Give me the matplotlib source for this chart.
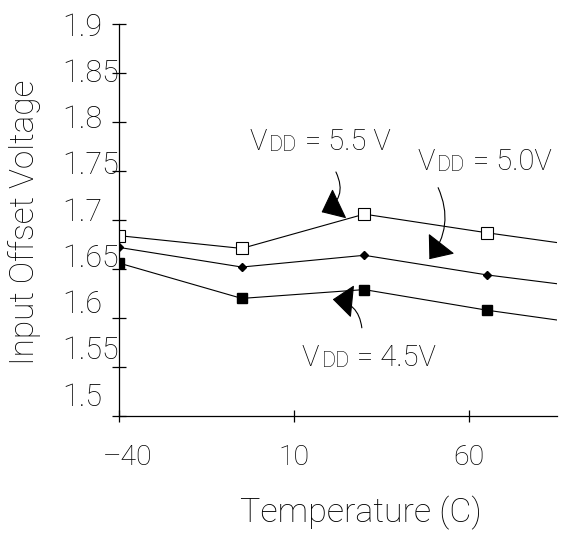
import matplotlib
matplotlib.use("Agg")
import matplotlib.pyplot as plt
import matplotlib.transforms as mtransforms

# data
temps = [-40, -5, 30, 65, 85]
vdd_55 = [1.684, 1.671, 1.706, 1.687, 1.677]
vdd_50 = [1.672, 1.652, 1.664, 1.644, 1.635]
vdd_45 = [1.656, 1.620, 1.629, 1.608, 1.598]

yticks = [1.9, 1.85, 1.8, 1.75, 1.7, 1.65, 1.6, 1.55, 1.5]
ylabels = ["1.9", "1.85", "1.8", "1.75", "1.7", "1.65", "1.6", "1.55", "1.5"]
xticks = [-40, 10, 60]
xlabels = ["\u201340", "10", "60"]

plt.rcParams['font.family'] = ['Roboto', 'DejaVu Sans']
plt.rcParams['font.weight'] = 'light'
plt.rcParams['axes.labelweight'] = 'light'

fig = plt.figure(figsize=(5.74, 5.37), dpi=100)
ax = fig.add_axes([0.2078, 0.2253, 0.7622, 0.73])

# lines end at 85 with no marker there
ax.plot(temps, vdd_55, color='black', lw=0.8, marker='s', markersize=8,
        markerfacecolor='white', markeredgecolor='black', markeredgewidth=0.8,
        markevery=[0, 1, 2, 3])
ax.plot(temps, vdd_50, color='black', lw=0.8, marker='D', markersize=4.5,
        markevery=[0, 1, 2, 3])
ax.plot(temps, vdd_45, color='black', lw=0.8, marker='s', markersize=6.5,
        markevery=[0, 1, 2, 3])

ax.set_xlim(-40, 85)
ax.set_ylim(1.5, 1.9)
for s in ['top', 'right']:
    ax.spines[s].set_visible(False)
for s in ['left', 'bottom']:
    ax.spines[s].set_linewidth(0.9)

ax.set_yticks(yticks)
ax.set_yticklabels([])
ax.tick_params(axis='y', direction='inout', length=10, width=0.9)
ax.set_xticks(xticks)
ax.set_xticklabels(xlabels, fontsize=20.5)
ax.tick_params(axis='x', direction='inout', length=8, width=0.9, pad=16)
first = ax.get_xticklabels()[0]
first.set_transform(first.get_transform() +
                    mtransforms.ScaledTranslation(0.08, 0, fig.dpi_scale_trans))

# y tick labels drawn left aligned, drifting a little from the ticks like the original
blend = mtransforms.blended_transform_factory(fig.transFigure, ax.transData)
for v, lab in zip(yticks, ylabels):
    up = -3 + (1.9 - v) / 0.4 * 22
    off = mtransforms.ScaledTranslation(0, up / 100, fig.dpi_scale_trans)
    ax.text(62 / 574, v, lab, transform=blend + off, ha='left', va='center',
            fontsize=22, clip_on=False)

ax.set_xlabel("Temperature (C)", fontsize=24.5, va='center')
ax.xaxis.set_label_coords(361 / 574, 1 - 513 / 537, transform=fig.transFigure)
ax.set_ylabel("Input Offset Voltage", fontsize=24, va='center')
ax.yaxis.set_label_coords(25 / 574, 1 - 222 / 537, transform=fig.transFigure)


def vdd_label(x, y, rest):
    t = ax.text(x, y, "V", fontsize=21, ha='left', va='bottom')
    t2 = ax.annotate("DD", xy=(1, 0), xycoords=t, xytext=(1.5, 0),
                     textcoords='offset points', fontsize=15.5, va='bottom')
    ax.annotate(rest, xy=(1, 0), xycoords=t2, xytext=(0, 0),
                textcoords='offset points', fontsize=21, va='bottom')


vdd_label(-2.7, 1.765, " = 5.5 V")
vdd_label(45.3, 1.745, " = 5.0V")
vdd_label(12.2, 1.545, " = 4.5V")

arrow = dict(arrowstyle='-|>,head_length=0.55,head_width=0.45', color='black',
             lw=0.8, mutation_scale=24, shrinkA=0, shrinkB=0)
ax.annotate("", xy=(17.8, 1.708), xytext=(21.9, 1.749),
            arrowprops=dict(arrow, connectionstyle='arc3,rad=-0.5'))
ax.annotate("", xy=(48.6, 1.660), xytext=(51.1, 1.733),
            arrowprops=dict(arrow, connectionstyle='arc3,rad=-0.3'))
ax.annotate("", xy=(21.0, 1.619), xytext=(29.3, 1.590),
            arrowprops=dict(arrow, connectionstyle='arc3,rad=0.4'))

fig.savefig("out.png", dpi=100)
